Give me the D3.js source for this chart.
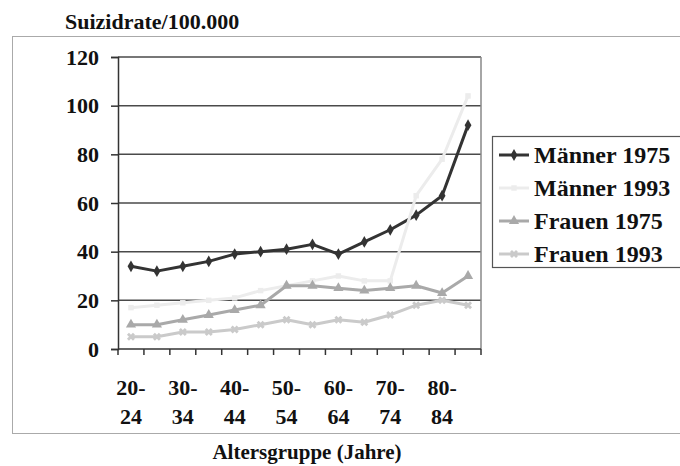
<!DOCTYPE html>
<html lang="de">
<head>
  <meta charset="UTF-8">
  <title>Suizidrate</title>
  <style>
    body { margin: 0; background: #fff; }
    svg text { font-family: "Liberation Serif", "Times New Roman", serif; font-weight: bold; fill: #111; }
  </style>
</head>
<body>
  <svg id="chart" width="680" height="466"></svg>
  <script src="https://cdn.jsdelivr.net/npm/d3@7"></script>
  <script>

  // Altersgruppen (x-Kategorien)
  var categories = ['20-24','25-29','30-34','35-39','40-44','45-49','50-54',
                    '55-59','60-64','65-69','70-74','75-79','80-84','85-89']
  var maenner1975 = [34, 32, 34, 36, 39, 40, 41, 43, 39, 44, 49, 55, 63, 92]
  var maenner1993 = [17, 18, 19, 20, 21, 24, 26, 28, 30, 28, 28, 63, 78, 104]
  var frauen1975  = [10, 10, 12, 14, 16, 18, 26, 26, 25, 24, 25, 26, 23, 30]
  var frauen1993  = [5, 5, 7, 7, 8, 10, 12, 10, 12, 11, 14, 18, 20, 18]
  var yTicks = [0, 20, 40, 60, 80, 100, 120]

  var series = [
    { name: 'Männer 1975', values: maenner1975, color: '#333333', symbol: d3.symbolDiamond, size: 40 },
    { name: 'Männer 1993', values: maenner1993, color: '#ececec', symbol: d3.symbolSquare, size: 30 },
    { name: 'Frauen 1975', values: frauen1975, color: '#a9a9a9', symbol: d3.symbolTriangle, size: 45 },
    { name: 'Frauen 1993', values: frauen1993, color: '#cacaca', symbol: d3.symbolCross, size: 40 }
  ]

  var svg = d3.select('#chart')

  // plot area (note: "top" is reserved on window, so use other names)
  var pLeft = 118, pRight = 481, pTop = 57, pBottom = 349

  var x = d3.scaleBand().domain(categories).range([pLeft, pRight]).padding(0)
  var y = d3.scaleLinear().domain([0, 120]).range([pBottom, pTop])
  var cx = c => x(c) + x.bandwidth() / 2

  // outer frame
  svg.append('rect')
    .attr('x', 12.5).attr('y', 36.5)
    .attr('width', 700).attr('height', 397)
    .attr('fill', 'none').attr('stroke', '#aaa')

  // title
  svg.append('text')
    .attr('x', 65).attr('y', 29)
    .attr('font-size', 22)
    .text('Suizidrate/100.000')

  // gridlines
  svg.append('g')
    .selectAll('line')
    .data(yTicks.filter(d => d > 0))
    .enter()
    .append('line')
    .attr('x1', pLeft).attr('x2', pRight)
    .attr('y1', d => y(d)).attr('y2', d => y(d))
    .attr('stroke', '#4a4a4a').attr('stroke-width', 1.5)

  // right edge of plot area
  svg.append('line')
    .attr('x1', pRight).attr('x2', pRight)
    .attr('y1', pTop).attr('y2', pBottom)
    .attr('stroke', '#888').attr('stroke-width', 1.5)

  // y axis
  var yAxis = svg.append('g')
    .attr('transform', `translate(${pLeft},0)`)
    .call(d3.axisLeft(y).tickValues(yTicks).tickSize(7).tickPadding(12))
  yAxis.select('.domain').attr('stroke', '#333').attr('stroke-width', 1.5)
  yAxis.selectAll('.tick line').attr('stroke', '#333').attr('stroke-width', 1.5)
  yAxis.selectAll('.tick text')
    .attr('font-size', 22)
    .attr('font-family', '"Liberation Serif", serif')
    .attr('font-weight', 'bold')
    .attr('fill', '#111')

  // x axis: ticks between categories
  var bounds = d3.range(categories.length + 1).map(i => pLeft + i * x.bandwidth())
  svg.append('line')
    .attr('x1', pLeft).attr('x2', pRight)
    .attr('y1', pBottom).attr('y2', pBottom)
    .attr('stroke', '#333').attr('stroke-width', 1.5)
  svg.append('g')
    .selectAll('line')
    .data(bounds)
    .enter()
    .append('line')
    .attr('x1', d => d).attr('x2', d => d)
    .attr('y1', pBottom).attr('y2', pBottom + 6)
    .attr('stroke', '#333').attr('stroke-width', 1.5)

  // x labels, every other category, two lines
  var xl = svg.append('g')
    .selectAll('text')
    .data(categories.filter((d, i) => i % 2 === 0))
    .enter()
    .append('text')
    .attr('text-anchor', 'middle')
    .attr('font-size', 22)
  xl.append('tspan')
    .attr('x', d => cx(d)).attr('y', 395)
    .text(d => d.split('-')[0] + '-')
  xl.append('tspan')
    .attr('x', d => cx(d)).attr('y', 424)
    .text(d => d.split('-')[1])

  // x title
  svg.append('text')
    .attr('x', 307).attr('y', 459)
    .attr('text-anchor', 'middle')
    .attr('font-size', 21)
    .text('Altersgruppe (Jahre)')

  // lines
  var line = d3.line()
    .x((d, i) => cx(categories[i]))
    .y(d => y(d))

  series.forEach(s => {
    var g = svg.append('g')
    g.append('path')
      .attr('d', line(s.values))
      .attr('fill', 'none')
      .attr('stroke', s.color)
      .attr('stroke-width', 3)
      .attr('stroke-linejoin', 'round')
    g.selectAll('path.m')
      .data(s.values)
      .enter()
      .append('path')
      .attr('class', 'm')
      .attr('d', d3.symbol().type(s.symbol).size(s.size))
      .attr('transform', (d, i) => `translate(${cx(categories[i])},${y(d)})` + (s.symbol === d3.symbolCross ? ' rotate(45)' : ''))
      .attr('fill', s.color)
  })

  // legend
  var lg = svg.append('g')
  lg.append('rect')
    .attr('x', 492.5).attr('y', 136.5)
    .attr('width', 200).attr('height', 131)
    .attr('fill', '#fff').attr('stroke', '#555').attr('stroke-width', 1.2)
  var rowY = [155, 188, 221, 254]
  series.forEach((s, i) => {
    var row = lg.append('g').attr('transform', `translate(0,${rowY[i]})`)
    row.append('line')
      .attr('x1', 499).attr('x2', 529)
      .attr('stroke', s.color).attr('stroke-width', 3)
    row.append('path')
      .attr('d', d3.symbol().type(s.symbol).size(s.size))
      .attr('transform', 'translate(514,0)' + (s.symbol === d3.symbolCross ? ' rotate(45)' : ''))
      .attr('fill', s.color)
    row.append('text')
      .attr('x', 534).attr('y', 8)
      .attr('font-size', 24)
      .text(s.name)
  })

  </script>
</body>
</html>
